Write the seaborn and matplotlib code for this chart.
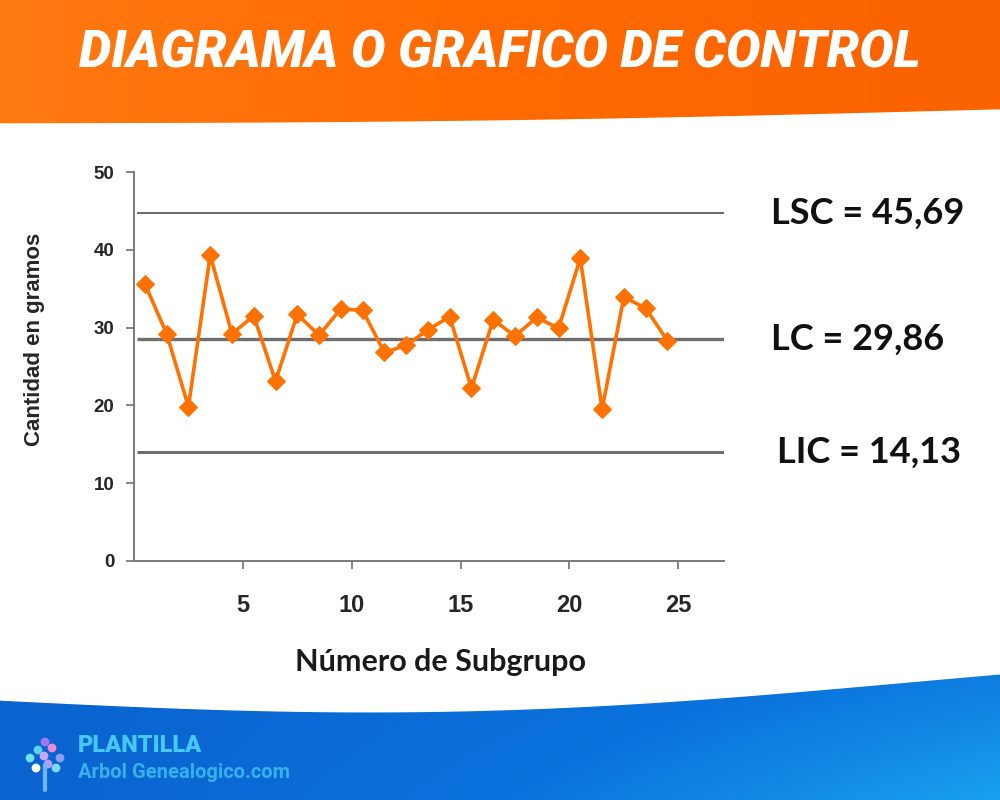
import numpy as np
import pandas as pd
import seaborn as sns
import matplotlib.pyplot as plt
from matplotlib.colors import LinearSegmentedColormap

# data
subgrupo = list(range(1, 26))
cantidad = [35.6, 29.2, 19.8, 39.3, 29.2, 31.5, 23.1, 31.7, 29.0, 32.4,
            32.2, 26.8, 27.7, 29.7, 31.4, 22.2, 31.0, 28.9, 31.3, 29.9,
            38.9, 19.5, 33.9, 32.5, 28.3]
# control limits as drawn on the chart and as printed next to it
limit_names = ['LSC', 'LC', 'LIC']
limit_drawn = [44.7, 28.5, 14.0]
limit_labels = ['45,69', '29,86', '14,13']
y_ticks = [0, 10, 20, 30, 40, 50]
x_ticks = [5, 10, 15, 20, 25]

df = pd.DataFrame({'subgrupo': subgrupo, 'cantidad': cantidad})
df['pos'] = df['subgrupo'] - 0.5

sns.set_style('white')
plt.rcParams['font.family'] = ['Liberation Sans', 'DejaVu Sans']

fig = plt.figure(figsize=(10, 8), dpi=100)

# background: orange header + blue wave footer
bg = fig.add_axes([0, 0, 1, 1], zorder=0)
bg.set_xlim(0, 1000)
bg.set_ylim(800, 0)
bg.axis('off')
orange = LinearSegmentedColormap.from_list('o', ['#ff7a12', '#ff6a00', '#fb6200'])
grad = np.linspace(0, 1, 256).reshape(1, -1)
bg.imshow(grad, cmap=orange, extent=[0, 1000, 130, 0], aspect='auto', zorder=1)
xs = np.linspace(0, 1000, 200)
top_edge = 124 - 14 * (xs / 1000) + 4 * np.sin(xs / 1000 * np.pi)
bg.fill_between(xs, top_edge, 135, color='white', zorder=2)

blue = LinearSegmentedColormap.from_list('b', ['#0b63cf', '#0a72dc', '#1aa0ee'])
yy, xx = np.mgrid[0:1:100j, 0:1:200j]
bg.imshow(0.6 * xx + 0.4 * yy * xx, cmap=blue, extent=[0, 1000, 800, 670],
          aspect='auto', zorder=1, origin='upper')
wave = 700 + 20 * np.sin(xs / 1000 * np.pi * 1.1) - 20 * (xs / 1000)
bg.fill_between(xs, 660, wave, color='white', zorder=2)

bg.text(500, 54, 'DIAGRAMA O GRAFICO DE CONTROL', color='white', fontsize=37,
        fontfamily='Roboto', fontweight='black', fontstyle='italic',
        ha='center', va='center', zorder=3)
bg.text(78, 746, 'PLANTILLA', color='#45c8f5', fontsize=17, fontweight='black',
        fontfamily='Roboto', ha='left', va='center', zorder=3)
bg.text(78, 772, 'Arbol Genealogico.com', color='#3ab0ea', fontsize=14.5,
        fontweight='bold', fontfamily='Roboto', ha='left', va='center', zorder=3)
# little tree logo
logo_pts = [(45, 742, '#9b7bf0'), (38, 750, '#5ad0f5'), (52, 748, '#f08ad8'),
            (30, 758, '#6fe0f0'), (60, 758, '#8f9cf5'), (44, 756, '#c6a6ff'),
            (36, 768, '#ffffff'), (56, 768, '#7fd8ff'), (48, 764, '#b59bf7')]
for px, py, c in logo_pts:
    bg.scatter(px, py, s=40, color=c, zorder=3, edgecolor='none')
bg.plot([45, 45], [765, 790], color='#6fb6ff', lw=3, zorder=3)

# chart
ax = fig.add_axes([0.134, 0.299, 0.59, 0.486], zorder=2)
ax.patch.set_alpha(0)
ax.hlines(limit_drawn, 0.15, 27.1, colors='#6e6e6e', linewidth=[1.5, 2.4, 2.2], zorder=1)
sns.lineplot(data=df, x='pos', y='cantidad', ax=ax, color='#ff7100', linewidth=2.6,
             marker='D', markersize=9, markeredgecolor='#ff7100', zorder=3)

ax.set_xlim(0, 27.1)
ax.set_ylim(0, 50)
ax.set_yticks(y_ticks)
ax.set_xticks(x_ticks)
ax.set_yticklabels([str(v) for v in y_ticks], fontweight='bold', fontsize=13.5)
ax.set_xticklabels([str(v) for v in x_ticks], fontweight='bold', fontsize=17)
ax.tick_params(axis='y', left=True, direction='out', length=6, width=1.3,
               color='#7a7a7a', pad=8)
ax.tick_params(axis='x', bottom=True, direction='out', length=6, width=1.3,
               color='#7a7a7a', pad=18)
for side in ['top', 'right']:
    ax.spines[side].set_visible(False)
for side in ['left', 'bottom']:
    ax.spines[side].set_color('#7a7a7a')
    ax.spines[side].set_linewidth(1.4)

ax.set_ylabel('Cantidad en gramos', fontweight='bold', fontsize=16)
ax.yaxis.set_label_coords(-0.15, 0.57)
ax.set_xlabel('Número de Subgrupo', fontfamily='Lato', fontweight='bold',
              fontsize=22, color='#1a1a1a')
ax.xaxis.set_label_coords(0.52, -0.225)

# limit labels at right
for name, drawn, lab, dx in zip(limit_names, limit_drawn, limit_labels, [0, 0, 4]):
    ax.annotate(f'{name} = {lab}', xy=(27.1, drawn), xytext=(34 + dx, 0),
                textcoords='offset points', ha='left', va='center', fontsize=26,
                fontfamily='Lato', fontweight='bold', color='#111111',
                annotation_clip=False)

fig.savefig('out.png', dpi=100)
